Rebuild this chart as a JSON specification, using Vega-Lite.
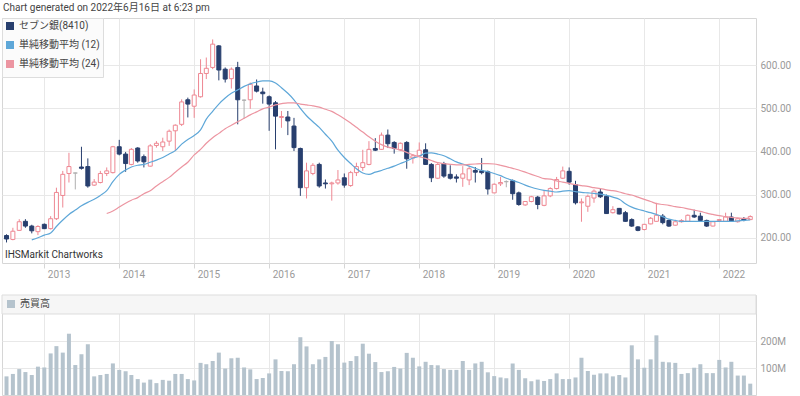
{
  "$schema": "https://vega.github.io/schema/vega-lite/v6.json",
  "padding": {"left": 1, "top": 3, "right": 0, "bottom": 0},
  "background": "white",
  "title": {"text": "Chart generated on 2022年6月16日 at 6:23 pm", "anchor": "start", "fontSize": 10, "fontWeight": "normal", "color": "#444444", "offset": 4, "dx": 2},
  "config": {
    "font": "Roboto, 'Noto Sans CJK JP', sans-serif",
    "view": {"stroke": "#d6d6d6"},
    "axis": {"gridColor": "#e8e8e8", "labelColor": "#9a9a9a", "labelFontSize": 10, "domain": false, "title": null}
  },
  "spacing": 32,
  "bounds": "flush",
  "resolve": {"scale": {"color": "independent", "y": "independent"}, "legend": {"color": "independent"}},
  "datasets": {
    "candles": [
{"date":"2012-07-01","open":205,"high":208,"low":189,"close":197,"volume":69000000},
{"date":"2012-08-01","open":196,"high":223,"low":194,"close":215,"volume":78000000},
{"date":"2012-09-01","open":217,"high":243,"low":216,"close":237,"volume":96000000},
{"date":"2012-10-01","open":238,"high":243,"low":223,"close":227,"volume":85000000},
{"date":"2012-11-01","open":227,"high":230,"low":210,"close":216,"volume":74000000},
{"date":"2012-12-01","open":214,"high":229,"low":206,"close":226,"volume":105000000},
{"date":"2013-01-01","open":231,"high":233,"low":220,"close":221,"volume":102000000},
{"date":"2013-02-01","open":221,"high":250,"low":219,"close":244,"volume":154000000},
{"date":"2013-03-01","open":244,"high":316,"low":241,"close":305,"volume":181000000},
{"date":"2013-04-01","open":298,"high":355,"low":270,"close":347,"volume":157000000},
{"date":"2013-05-01","open":349,"high":397,"low":328,"close":365,"volume":227000000},
{"date":"2013-06-01","open":350,"high":351,"low":312,"close":350,"volume":111000000},
{"date":"2013-07-01","open":364,"high":411,"low":358,"close":361,"volume":151000000},
{"date":"2013-08-01","open":365,"high":384,"low":316,"close":320,"volume":188000000},
{"date":"2013-09-01","open":322,"high":336,"low":320,"close":329,"volume":69000000},
{"date":"2013-10-01","open":328,"high":355,"low":326,"close":349,"volume":74000000},
{"date":"2013-11-01","open":349,"high":363,"low":343,"close":355,"volume":78000000},
{"date":"2013-12-01","open":351,"high":413,"low":349,"close":411,"volume":117000000},
{"date":"2014-01-01","open":411,"high":427,"low":391,"close":394,"volume":93000000},
{"date":"2014-02-01","open":394,"high":399,"low":353,"close":372,"volume":88000000},
{"date":"2014-03-01","open":370,"high":408,"low":368,"close":405,"volume":74000000},
{"date":"2014-04-01","open":408,"high":410,"low":374,"close":378,"volume":59000000},
{"date":"2014-05-01","open":388,"high":393,"low":363,"close":376,"volume":46000000},
{"date":"2014-06-01","open":366,"high":417,"low":365,"close":413,"volume":57000000},
{"date":"2014-07-01","open":414,"high":424,"low":409,"close":419,"volume":44000000},
{"date":"2014-08-01","open":411,"high":432,"low":401,"close":422,"volume":56000000},
{"date":"2014-09-01","open":424,"high":451,"low":413,"close":447,"volume":53000000},
{"date":"2014-10-01","open":448,"high":463,"low":401,"close":461,"volume":78000000},
{"date":"2014-11-01","open":463,"high":521,"low":459,"close":515,"volume":78000000},
{"date":"2014-12-01","open":520,"high":525,"low":479,"close":510,"volume":59000000},
{"date":"2015-01-01","open":505,"high":544,"low":478,"close":531,"volume":54000000},
{"date":"2015-02-01","open":527,"high":614,"low":525,"close":581,"volume":119000000},
{"date":"2015-03-01","open":581,"high":618,"low":568,"close":593,"volume":114000000},
{"date":"2015-04-01","open":595,"high":660,"low":591,"close":649,"volume":126000000},
{"date":"2015-05-01","open":645,"high":647,"low":565,"close":589,"volume":157000000},
{"date":"2015-06-01","open":591,"high":595,"low":560,"close":568,"volume":98000000},
{"date":"2015-07-01","open":569,"high":595,"low":546,"close":591,"volume":136000000},
{"date":"2015-08-01","open":595,"high":608,"low":463,"close":520,"volume":138000000},
{"date":"2015-09-01","open":519,"high":521,"low":476,"close":519,"volume":102000000},
{"date":"2015-10-01","open":520,"high":560,"low":499,"close":556,"volume":95000000},
{"date":"2015-11-01","open":552,"high":567,"low":537,"close":540,"volume":59000000},
{"date":"2015-12-01","open":538,"high":548,"low":511,"close":534,"volume":63000000},
{"date":"2016-01-01","open":527,"high":530,"low":448,"close":510,"volume":80000000},
{"date":"2016-02-01","open":513,"high":517,"low":405,"close":482,"volume":132000000},
{"date":"2016-03-01","open":479,"high":494,"low":455,"close":481,"volume":89000000},
{"date":"2016-04-01","open":480,"high":494,"low":438,"close":471,"volume":88000000},
{"date":"2016-05-01","open":459,"high":478,"low":401,"close":409,"volume":114000000},
{"date":"2016-06-01","open":407,"high":409,"low":297,"close":316,"volume":214000000},
{"date":"2016-07-01","open":316,"high":374,"low":291,"close":355,"volume":180000000},
{"date":"2016-08-01","open":349,"high":373,"low":345,"close":368,"volume":114000000},
{"date":"2016-09-01","open":370,"high":374,"low":316,"close":320,"volume":132000000},
{"date":"2016-10-01","open":327,"high":335,"low":314,"close":325,"volume":141000000},
{"date":"2016-11-01","open":325,"high":330,"low":286,"close":327,"volume":200000000},
{"date":"2016-12-01","open":327,"high":357,"low":323,"close":334,"volume":188000000},
{"date":"2017-01-01","open":339,"high":349,"low":316,"close":322,"volume":120000000},
{"date":"2017-02-01","open":321,"high":355,"low":318,"close":351,"volume":126000000},
{"date":"2017-03-01","open":351,"high":374,"low":343,"close":365,"volume":144000000},
{"date":"2017-04-01","open":363,"high":404,"low":355,"close":374,"volume":190000000},
{"date":"2017-05-01","open":370,"high":424,"low":368,"close":405,"volume":153000000},
{"date":"2017-06-01","open":407,"high":431,"low":401,"close":403,"volume":122000000},
{"date":"2017-07-01","open":405,"high":444,"low":404,"close":438,"volume":85000000},
{"date":"2017-08-01","open":438,"high":451,"low":408,"close":418,"volume":88000000},
{"date":"2017-09-01","open":421,"high":424,"low":395,"close":407,"volume":104000000},
{"date":"2017-10-01","open":404,"high":421,"low":401,"close":419,"volume":98000000},
{"date":"2017-11-01","open":421,"high":424,"low":360,"close":383,"volume":156000000},
{"date":"2017-12-01","open":385,"high":394,"low":372,"close":390,"volume":138000000},
{"date":"2018-01-01","open":390,"high":421,"low":387,"close":403,"volume":106000000},
{"date":"2018-02-01","open":404,"high":419,"low":369,"close":370,"volume":123000000},
{"date":"2018-03-01","open":370,"high":373,"low":329,"close":339,"volume":111000000},
{"date":"2018-04-01","open":338,"high":373,"low":336,"close":370,"volume":110000000},
{"date":"2018-05-01","open":372,"high":376,"low":339,"close":343,"volume":96000000},
{"date":"2018-06-01","open":347,"high":368,"low":335,"close":338,"volume":93000000},
{"date":"2018-07-01","open":341,"high":347,"low":328,"close":338,"volume":93000000},
{"date":"2018-08-01","open":338,"high":366,"low":318,"close":348,"volume":126000000},
{"date":"2018-09-01","open":334,"high":366,"low":322,"close":360,"volume":93000000},
{"date":"2018-10-01","open":356,"high":364,"low":328,"close":352,"volume":117000000},
{"date":"2018-11-01","open":355,"high":385,"low":347,"close":351,"volume":123000000},
{"date":"2018-12-01","open":353,"high":356,"low":300,"close":313,"volume":84000000},
{"date":"2019-01-01","open":304,"high":326,"low":303,"close":324,"volume":70000000},
{"date":"2019-02-01","open":325,"high":341,"low":320,"close":328,"volume":65000000},
{"date":"2019-03-01","open":330,"high":333,"low":317,"close":330,"volume":62000000},
{"date":"2019-04-01","open":332,"high":335,"low":288,"close":302,"volume":117000000},
{"date":"2019-05-01","open":304,"high":307,"low":274,"close":277,"volume":93000000},
{"date":"2019-06-01","open":276,"high":285,"low":274,"close":284,"volume":62000000},
{"date":"2019-07-01","open":284,"high":297,"low":282,"close":295,"volume":51000000},
{"date":"2019-08-01","open":294,"high":297,"low":266,"close":277,"volume":57000000},
{"date":"2019-09-01","open":275,"high":310,"low":273,"close":297,"volume":52000000},
{"date":"2019-10-01","open":297,"high":317,"low":294,"close":314,"volume":59000000},
{"date":"2019-11-01","open":314,"high":341,"low":312,"close":335,"volume":80000000},
{"date":"2019-12-01","open":338,"high":365,"low":336,"close":355,"volume":59000000},
{"date":"2020-01-01","open":354,"high":363,"low":323,"close":329,"volume":59000000},
{"date":"2020-02-01","open":323,"high":332,"low":277,"close":281,"volume":65000000},
{"date":"2020-03-01","open":281,"high":291,"low":237,"close":283,"volume":138000000},
{"date":"2020-04-01","open":273,"high":300,"low":260,"close":296,"volume":89000000},
{"date":"2020-05-01","open":292,"high":312,"low":281,"close":308,"volume":75000000},
{"date":"2020-06-01","open":306,"high":315,"low":292,"close":295,"volume":80000000},
{"date":"2020-07-01","open":296,"high":300,"low":255,"close":256,"volume":80000000},
{"date":"2020-08-01","open":258,"high":273,"low":256,"close":265,"volume":69000000},
{"date":"2020-09-01","open":268,"high":269,"low":254,"close":255,"volume":74000000},
{"date":"2020-10-01","open":258,"high":262,"low":237,"close":238,"volume":65000000},
{"date":"2020-11-01","open":242,"high":245,"low":225,"close":227,"volume":184000000},
{"date":"2020-12-01","open":225,"high":227,"low":215,"close":217,"volume":132000000},
{"date":"2021-01-01","open":219,"high":232,"low":217,"close":231,"volume":101000000},
{"date":"2021-02-01","open":232,"high":248,"low":231,"close":245,"volume":132000000},
{"date":"2021-03-01","open":238,"high":281,"low":237,"close":252,"volume":221000000},
{"date":"2021-04-01","open":250,"high":255,"low":231,"close":235,"volume":123000000},
{"date":"2021-05-01","open":240,"high":242,"low":225,"close":227,"volume":121000000},
{"date":"2021-06-01","open":229,"high":238,"low":228,"close":237,"volume":119000000},
{"date":"2021-07-01","open":237,"high":243,"low":235,"close":240,"volume":78000000},
{"date":"2021-08-01","open":238,"high":254,"low":237,"close":252,"volume":81000000},
{"date":"2021-09-01","open":252,"high":265,"low":246,"close":248,"volume":101000000},
{"date":"2021-10-01","open":250,"high":258,"low":238,"close":240,"volume":114000000},
{"date":"2021-11-01","open":240,"high":242,"low":225,"close":227,"volume":81000000},
{"date":"2021-12-01","open":227,"high":238,"low":226,"close":237,"volume":81000000},
{"date":"2022-01-01","open":240,"high":243,"low":238,"close":242,"volume":130000000},
{"date":"2022-02-01","open":238,"high":258,"low":237,"close":248,"volume":102000000},
{"date":"2022-03-01","open":248,"high":258,"low":237,"close":239,"volume":123000000},
{"date":"2022-04-01","open":237,"high":245,"low":235,"close":244,"volume":72000000},
{"date":"2022-05-01","open":244,"high":248,"low":238,"close":241,"volume":72000000},
{"date":"2022-06-01","open":242,"high":252,"low":241,"close":249,"volume":42000000}
    ],
    "sma12": [
{"date":"2012-11-01","value":195},{"date":"2012-12-01","value":200},
{"date":"2013-01-01","value":206},{"date":"2013-02-01","value":211},{"date":"2013-03-01","value":226},{"date":"2013-04-01","value":241},{"date":"2013-05-01","value":254},{"date":"2013-06-01","value":264},{"date":"2013-07-01","value":274},{"date":"2013-08-01","value":282},{"date":"2013-09-01","value":289},{"date":"2013-10-01","value":298},{"date":"2013-11-01","value":309},{"date":"2013-12-01","value":330},
{"date":"2014-01-01","value":347},{"date":"2014-02-01","value":357},{"date":"2014-03-01","value":364},{"date":"2014-04-01","value":368},{"date":"2014-05-01","value":370},{"date":"2014-06-01","value":375},{"date":"2014-07-01","value":380},{"date":"2014-08-01","value":386},{"date":"2014-09-01","value":394},{"date":"2014-10-01","value":402},{"date":"2014-11-01","value":417},{"date":"2014-12-01","value":428},
{"date":"2015-01-01","value":437},{"date":"2015-02-01","value":450},{"date":"2015-03-01","value":475},{"date":"2015-04-01","value":493},{"date":"2015-05-01","value":510},{"date":"2015-06-01","value":524},{"date":"2015-07-01","value":535},{"date":"2015-08-01","value":543},{"date":"2015-09-01","value":551},{"date":"2015-10-01","value":557},{"date":"2015-11-01","value":561},{"date":"2015-12-01","value":564},
{"date":"2016-01-01","value":564},{"date":"2016-02-01","value":559},{"date":"2016-03-01","value":548},{"date":"2016-04-01","value":535},{"date":"2016-05-01","value":520},{"date":"2016-06-01","value":500},{"date":"2016-07-01","value":483},{"date":"2016-08-01","value":469},{"date":"2016-09-01","value":456},{"date":"2016-10-01","value":440},{"date":"2016-11-01","value":424},{"date":"2016-12-01","value":403},
{"date":"2017-01-01","value":386},{"date":"2017-02-01","value":372},{"date":"2017-03-01","value":360},{"date":"2017-04-01","value":350},{"date":"2017-05-01","value":347},{"date":"2017-06-01","value":352},{"date":"2017-07-01","value":356},{"date":"2017-08-01","value":361},{"date":"2017-09-01","value":366},{"date":"2017-10-01","value":372},{"date":"2017-11-01","value":378},{"date":"2017-12-01","value":385},
{"date":"2018-01-01","value":389},{"date":"2018-02-01","value":396},{"date":"2018-03-01","value":397},{"date":"2018-04-01","value":394},{"date":"2018-05-01","value":390},{"date":"2018-06-01","value":383},{"date":"2018-07-01","value":376},{"date":"2018-08-01","value":371},{"date":"2018-09-01","value":366},{"date":"2018-10-01","value":361},{"date":"2018-11-01","value":356},{"date":"2018-12-01","value":353},
{"date":"2019-01-01","value":349},{"date":"2019-02-01","value":344},{"date":"2019-03-01","value":338},{"date":"2019-04-01","value":333},{"date":"2019-05-01","value":328},{"date":"2019-06-01","value":322},{"date":"2019-07-01","value":317},{"date":"2019-08-01","value":313},{"date":"2019-09-01","value":310},{"date":"2019-10-01","value":308},{"date":"2019-11-01","value":306},{"date":"2019-12-01","value":308},
{"date":"2020-01-01","value":309},{"date":"2020-02-01","value":307},{"date":"2020-03-01","value":305},{"date":"2020-04-01","value":304},{"date":"2020-05-01","value":303},{"date":"2020-06-01","value":301},{"date":"2020-07-01","value":298},{"date":"2020-08-01","value":294},{"date":"2020-09-01","value":289},{"date":"2020-10-01","value":279},{"date":"2020-11-01","value":271},{"date":"2020-12-01","value":266},
{"date":"2021-01-01","value":262},{"date":"2021-02-01","value":258},{"date":"2021-03-01","value":254},{"date":"2021-04-01","value":249},{"date":"2021-05-01","value":243},{"date":"2021-06-01","value":240},{"date":"2021-07-01","value":238},{"date":"2021-08-01","value":238},{"date":"2021-09-01","value":238},{"date":"2021-10-01","value":238},{"date":"2021-11-01","value":238},{"date":"2021-12-01","value":238},
{"date":"2022-01-01","value":238},{"date":"2022-02-01","value":238},{"date":"2022-03-01","value":238},{"date":"2022-04-01","value":239},{"date":"2022-05-01","value":240},{"date":"2022-06-01","value":241}
    ],
    "sma24": [
{"date":"2013-11-01","value":256},{"date":"2013-12-01","value":262},
{"date":"2014-01-01","value":271},{"date":"2014-02-01","value":280},{"date":"2014-03-01","value":287},{"date":"2014-04-01","value":293},{"date":"2014-05-01","value":302},{"date":"2014-06-01","value":309},{"date":"2014-07-01","value":320},{"date":"2014-08-01","value":330},{"date":"2014-09-01","value":340},{"date":"2014-10-01","value":352},{"date":"2014-11-01","value":364},{"date":"2014-12-01","value":375},
{"date":"2015-01-01","value":392},{"date":"2015-02-01","value":405},{"date":"2015-03-01","value":419},{"date":"2015-04-01","value":432},{"date":"2015-05-01","value":442},{"date":"2015-06-01","value":453},{"date":"2015-07-01","value":461},{"date":"2015-08-01","value":469},{"date":"2015-09-01","value":477},{"date":"2015-10-01","value":485},{"date":"2015-11-01","value":492},{"date":"2015-12-01","value":499},
{"date":"2016-01-01","value":503},{"date":"2016-02-01","value":508},{"date":"2016-03-01","value":511},{"date":"2016-04-01","value":513},{"date":"2016-05-01","value":513},{"date":"2016-06-01","value":510},{"date":"2016-07-01","value":508},{"date":"2016-08-01","value":506},{"date":"2016-09-01","value":503},{"date":"2016-10-01","value":498},{"date":"2016-11-01","value":493},{"date":"2016-12-01","value":485},
{"date":"2017-01-01","value":476},{"date":"2017-02-01","value":466},{"date":"2017-03-01","value":456},{"date":"2017-04-01","value":445},{"date":"2017-05-01","value":434},{"date":"2017-06-01","value":424},{"date":"2017-07-01","value":416},{"date":"2017-08-01","value":410},{"date":"2017-09-01","value":407},{"date":"2017-10-01","value":403},{"date":"2017-11-01","value":398},{"date":"2017-12-01","value":392},
{"date":"2018-01-01","value":388},{"date":"2018-02-01","value":384},{"date":"2018-03-01","value":379},{"date":"2018-04-01","value":374},{"date":"2018-05-01","value":372},{"date":"2018-06-01","value":370},{"date":"2018-07-01","value":369},{"date":"2018-08-01","value":369},{"date":"2018-09-01","value":370},{"date":"2018-10-01","value":371},{"date":"2018-11-01","value":372},{"date":"2018-12-01","value":372},
{"date":"2019-01-01","value":371},{"date":"2019-02-01","value":368},{"date":"2019-03-01","value":365},{"date":"2019-04-01","value":361},{"date":"2019-05-01","value":357},{"date":"2019-06-01","value":352},{"date":"2019-07-01","value":347},{"date":"2019-08-01","value":342},{"date":"2019-09-01","value":337},{"date":"2019-10-01","value":336},{"date":"2019-11-01","value":332},{"date":"2019-12-01","value":329},
{"date":"2020-01-01","value":326},{"date":"2020-02-01","value":323},{"date":"2020-03-01","value":321},{"date":"2020-04-01","value":319},{"date":"2020-05-01","value":316},{"date":"2020-06-01","value":314},{"date":"2020-07-01","value":311},{"date":"2020-08-01","value":309},{"date":"2020-09-01","value":306},{"date":"2020-10-01","value":302},{"date":"2020-11-01","value":299},{"date":"2020-12-01","value":294},
{"date":"2021-01-01","value":289},{"date":"2021-02-01","value":284},{"date":"2021-03-01","value":279},{"date":"2021-04-01","value":277},{"date":"2021-05-01","value":275},{"date":"2021-06-01","value":272},{"date":"2021-07-01","value":270},{"date":"2021-08-01","value":267},{"date":"2021-09-01","value":264},{"date":"2021-10-01","value":261},{"date":"2021-11-01","value":257},{"date":"2021-12-01","value":254},
{"date":"2022-01-01","value":251},{"date":"2022-02-01","value":249},{"date":"2022-03-01","value":247},{"date":"2022-04-01","value":246},{"date":"2022-05-01","value":245},{"date":"2022-06-01","value":245}
    ]
  },
  "vconcat": [
    {
      "width": 754,
      "height": 245,
      "layer": [
        {
          "data": {"name": "candles"},
          "mark": {"type": "rule", "strokeWidth": 1},
          "encoding": {
            "x": {"field": "date", "type": "temporal",
              "scale": {"type": "utc", "domain": ["2012-06-09", "2022-06-29"], "padding": 0},
              "axis": {"orient": "bottom", "format": "%Y", "tickCount": {"interval": "year", "step": 1}, "grid": true, "ticks": true, "tickSize": 5, "tickColor": "#d6d6d6", "labelAlign": "left", "labelOffset": 3, "labelPadding": 1, "labelBaseline": "top"}},
            "y": {"field": "low", "type": "quantitative", "scale": {"domain": [141.3, 709.7], "nice": false, "zero": false},
              "axis": {"orient": "right", "values": [200, 300, 400, 500, 600], "format": ".2f", "grid": true, "ticks": false, "labelPadding": 4}},
            "y2": {"field": "high"},
            "stroke": {"condition": [{"test": "datum.close > datum.open", "value": "#ee8792"}, {"test": "datum.close < datum.open", "value": "#283f6e"}], "value": "#b0b0b0"}
          }
        },
        {
          "data": {"name": "candles"},
          "mark": {"type": "bar", "size": 4, "strokeWidth": 1},
          "encoding": {
            "x": {"field": "date", "type": "temporal"},
            "y": {"field": "open", "type": "quantitative"},
            "y2": {"field": "close"},
            "fill": {"condition": [{"test": "datum.close > datum.open", "value": "#ffffff"}, {"test": "datum.close < datum.open", "value": "#283f6e"}], "value": "#b0b0b0"},
            "stroke": {"condition": [{"test": "datum.close > datum.open", "value": "#ee8792"}, {"test": "datum.close < datum.open", "value": "#283f6e"}], "value": "#b0b0b0"}
          }
        },
        {
          "data": {"name": "sma12"},
          "mark": {"type": "line", "strokeWidth": 1.2, "interpolate": "monotone"},
          "encoding": {
            "x": {"field": "date", "type": "temporal"},
            "y": {"field": "value", "type": "quantitative"},
            "color": {"datum": "単純移動平均 (12)", "type": "nominal",
              "scale": {"domain": ["セブン銀(8410)", "単純移動平均 (12)", "単純移動平均 (24)"], "range": ["#283f6e", "#5ea7d8", "#ec95a1"]},
              "legend": {"title": null, "orient": "none", "legendX": 0, "legendY": 0, "fillColor": "#fbfbfb", "strokeColor": "#dddddd", "padding": 3, "symbolType": "square", "symbolSize": 16, "symbolStrokeWidth": 4, "labelFontSize": 10, "labelColor": "#444444", "rowPadding": -1, "labelOffset": 4, "symbolOpacity": 1}}
          }
        },
        {
          "data": {"name": "sma24"},
          "mark": {"type": "line", "strokeWidth": 1.2, "interpolate": "monotone"},
          "encoding": {
            "x": {"field": "date", "type": "temporal"},
            "y": {"field": "value", "type": "quantitative"},
            "color": {"datum": "単純移動平均 (24)", "type": "nominal"}
          }
        },
        {
          "data": {"values": [{"label": "IHSMarkit Chartworks", "date": "2012-06-09", "value": 141.3}]},
          "mark": {"type": "text", "align": "left", "baseline": "bottom", "dx": 3, "dy": -3, "fontSize": 10, "color": "#333333"},
          "encoding": {
            "x": {"field": "date", "type": "temporal"},
            "y": {"field": "value", "type": "quantitative"},
            "text": {"field": "label"}
          }
        }
      ]
    },
    {
      "width": 754,
      "height": 100,
      "layer": [
        {
          "data": {"values": [{"lo": 300000000, "hi": 370400000}]},
          "mark": {"type": "rect", "fill": "#f6f6f6", "stroke": "#dddddd", "strokeWidth": 1},
          "encoding": {
            "y": {"field": "lo", "type": "quantitative", "scale": {"domain": [0, 370400000], "nice": false},
              "axis": {"orient": "right", "values": [100000000, 200000000], "format": "~s", "grid": true, "ticks": false, "labelPadding": 4}},
            "y2": {"field": "hi"}
          }
        },
        {
          "data": {"name": "candles"},
          "mark": {"type": "bar", "size": 4},
          "encoding": {
            "x": {"field": "date", "type": "temporal",
              "scale": {"type": "utc", "domain": ["2012-06-09", "2022-06-29"], "padding": 0},
              "axis": {"tickCount": {"interval": "year", "step": 1}, "grid": true, "labels": false, "ticks": false}},
            "y": {"field": "volume", "type": "quantitative"},
            "color": {"datum": "売買高", "type": "nominal", "scale": {"range": ["#b5c3cd"]},
              "legend": {"title": null, "orient": "none", "legendX": 4, "legendY": 4, "symbolType": "square", "symbolSize": 64, "labelFontSize": 10, "labelColor": "#444444", "labelOffset": 4}}
          }
        }
      ]
    }
  ]
}
